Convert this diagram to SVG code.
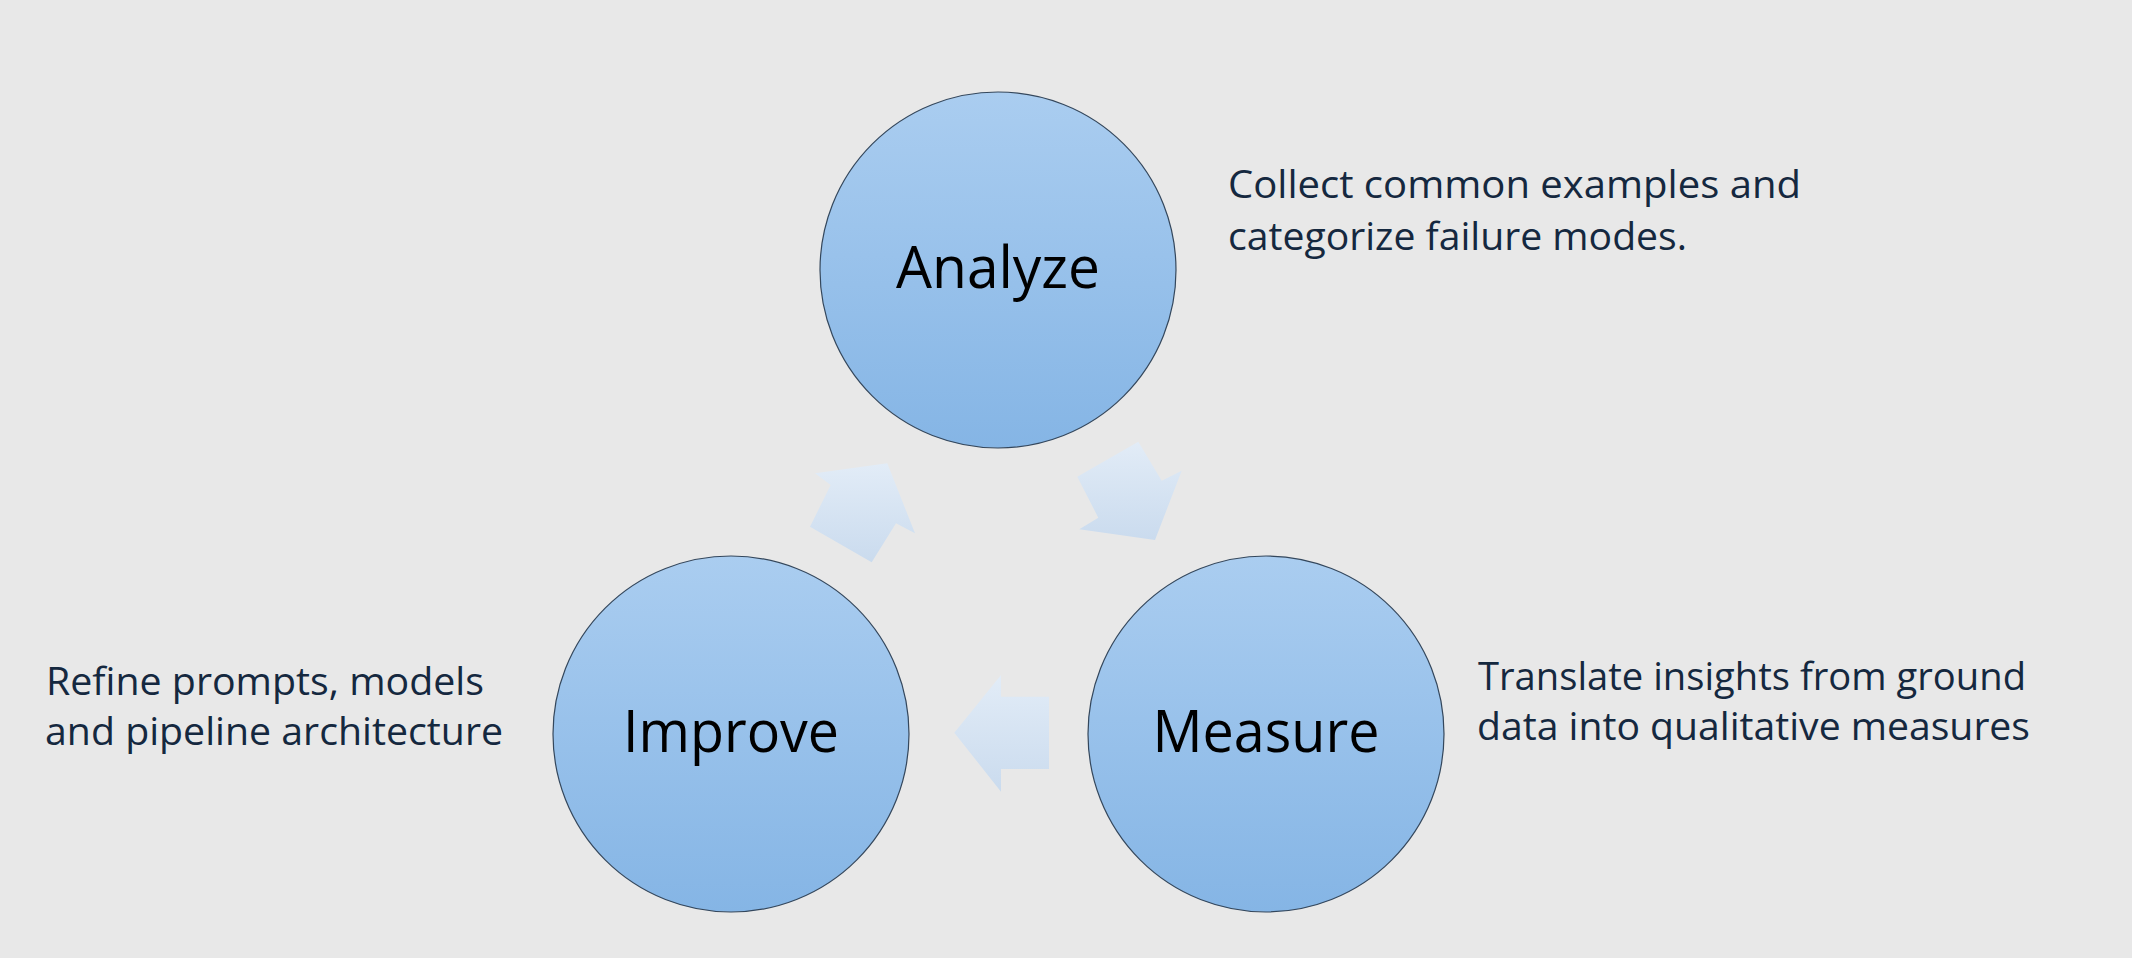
<svg xmlns="http://www.w3.org/2000/svg" width="2132" height="958" viewBox="0 0 2132 958">
  <defs>
    <linearGradient id="circFill" x1="0" y1="0" x2="0" y2="1">
      <stop offset="0" stop-color="#aacdf0"/>
      <stop offset="1" stop-color="#85b5e5"/>
    </linearGradient>
    <linearGradient id="arrowFill" x1="0" y1="0" x2="0" y2="1">
      <stop offset="0" stop-color="#e2ecf7"/>
      <stop offset="1" stop-color="#cadbee"/>
    </linearGradient>
    <style>
      .node-circle { fill: url(#circFill); stroke: #34475c; stroke-width: 1.2; }
      .node-label { font-family: "Open Sans", "Liberation Sans", sans-serif; font-size: 58px; fill: #000000; text-anchor: middle; }
      .desc { font-family: "Open Sans", "Liberation Sans", sans-serif; font-size: 38px; fill: #15283f; }
      .arrow { fill: url(#arrowFill); stroke: none; }
    </style>
  </defs>
  <rect x="0" y="0" width="2132" height="958" fill="#e8e8e8"/>

  <g id="connectors">
    <polygon class="arrow" points="1077.3,476.7 1138.3,441.7 1161.7,480.7 1181.7,470.7 1155,540 1079.3,529.3 1098.3,517.7"/>
    <polygon class="arrow" points="954.3,732.7 1001,675 1001,696.7 1049,696.7 1049,769 1001,769 1001,791.7"/>
    <polygon class="arrow" points="887.3,463.3 915,533.3 896,523.3 871.7,562.3 810,526.7 830.7,485 815,473.3"/>
  </g>

  <g id="node-analyze">
    <circle class="node-circle" cx="998" cy="270" r="178"/>
    <text class="node-label" x="998" y="288" textLength="204" lengthAdjust="spacingAndGlyphs">Analyze</text>
  </g>

  <g id="node-measure">
    <circle class="node-circle" cx="1266" cy="734" r="178"/>
    <text class="node-label" x="1266" y="752" textLength="227" lengthAdjust="spacingAndGlyphs">Measure</text>
  </g>

  <g id="node-improve">
    <circle class="node-circle" cx="731" cy="734" r="178"/>
    <text class="node-label" x="731" y="752" textLength="216" lengthAdjust="spacingAndGlyphs">Improve</text>
  </g>

  <g id="desc-analyze">
    <text class="desc" x="1228" y="198" textLength="573" lengthAdjust="spacingAndGlyphs">Collect common examples and</text>
    <text class="desc" x="1228" y="250" textLength="459" lengthAdjust="spacingAndGlyphs">categorize failure modes.</text>
  </g>

  <g id="desc-measure">
    <text class="desc" x="1478" y="690" textLength="548" lengthAdjust="spacingAndGlyphs">Translate insights from ground</text>
    <text class="desc" x="1477" y="740" textLength="553" lengthAdjust="spacingAndGlyphs">data into qualitative measures</text>
  </g>

  <g id="desc-improve">
    <text class="desc" x="46" y="695" textLength="438" lengthAdjust="spacingAndGlyphs">Refine prompts, models</text>
    <text class="desc" x="45" y="745" textLength="458" lengthAdjust="spacingAndGlyphs">and pipeline architecture</text>
  </g>
</svg>
